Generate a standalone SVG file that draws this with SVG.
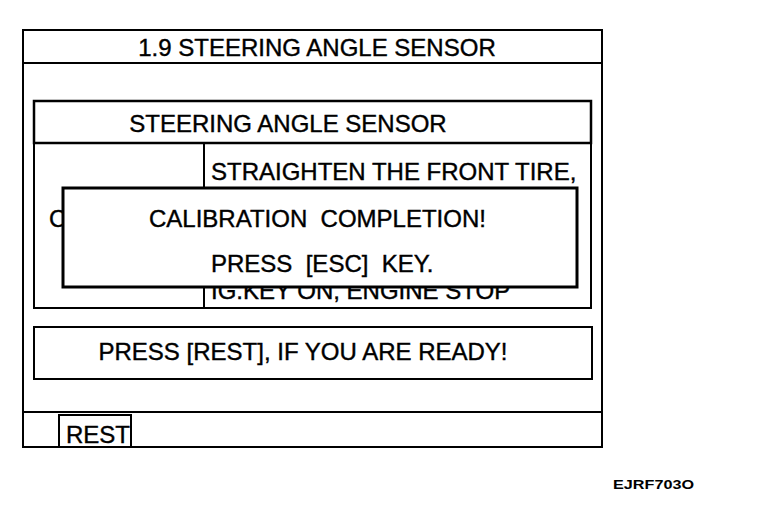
<svg xmlns="http://www.w3.org/2000/svg" width="768" height="506" viewBox="0 0 768 506">
<style>
.ln{fill:none;stroke:#000;stroke-width:2}
.bx{fill:#fff;stroke:#000;stroke-width:2}
.pp{fill:#fff;stroke:#000;stroke-width:3}
.t{font-family:"Liberation Sans",Arial,sans-serif;font-size:24px;fill:#000;stroke:#000;stroke-width:0.4;white-space:pre}
.c{text-anchor:middle}
</style>
<rect width="768" height="506" fill="#fff"/>
<g id="frame">
<rect class="ln" x="23" y="30" width="579" height="417"/>
<line class="ln" x1="23" y1="63" x2="602" y2="63"/>
<text class="t c" x="317" y="56">1.9 STEERING ANGLE SENSOR</text>
<line class="ln" x1="23" y1="412" x2="602" y2="412"/>
</g>
<g id="panel">
<rect class="bx" x="34" y="101" width="557" height="42" style="stroke-width:2.5"/>
<text class="t c" x="288" y="132">STEERING ANGLE SENSOR</text>
<rect class="ln" x="34" y="143" width="557" height="165"/>
<line class="ln" x1="204" y1="143" x2="204" y2="308"/>
<text class="t" x="211" y="180">STRAIGHTEN THE FRONT TIRE,</text>
<text class="t" x="49" y="227">C</text>
<text class="t" x="211" y="299">IG.KEY ON, ENGINE STOP</text>
</g>
<g id="popup">
<rect class="pp" x="63" y="188" width="514" height="99"/>
<text class="t" x="149" y="227">CALIBRATION  COMPLETION!</text>
<text class="t" x="211" y="272">PRESS  [ESC]  KEY.</text>
</g>
<g id="message">
<rect class="ln" x="34" y="327" width="558" height="52"/>
<text class="t c" x="303" y="360">PRESS [REST], IF YOU ARE READY!</text>
</g>
<g id="rest">
<rect class="ln" x="59" y="415" width="72" height="32"/>
<text class="t" x="66" y="443">REST</text>
</g>
<g id="connectors"></g>
<text x="613" y="489" style="font-family:'Liberation Sans',Arial,sans-serif;font-size:12px;font-weight:bold" textLength="81" lengthAdjust="spacingAndGlyphs">EJRF703O</text>
</svg>
